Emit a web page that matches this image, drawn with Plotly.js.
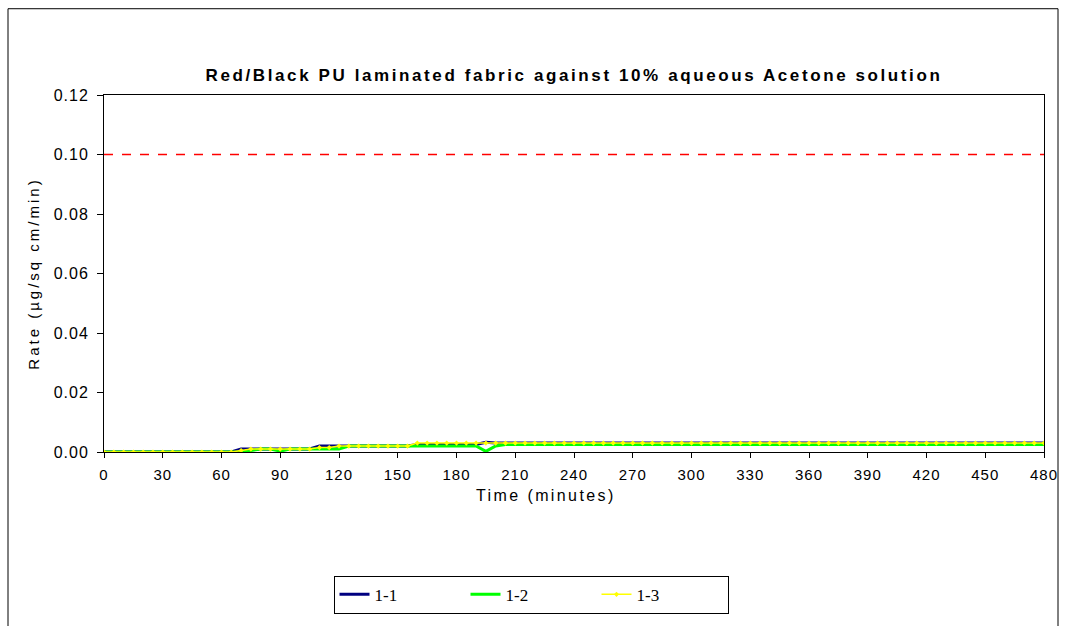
<!DOCTYPE html>
<html><head><meta charset="utf-8">
<script src="https://cdn.plot.ly/plotly-3.0.1.min.js"></script>
<style>html,body{margin:0;padding:0;background:#fff}#chart{width:1066px;height:626px}</style>
</head><body><div id="chart"></div>
<script>
// Time (minutes), sampled every 5 min
const time = [0,5,10,15,20,25,30,35,40,45,50,55,60,65,70,75,80,85,90,95,100,105,110,115,120,125,130,135,140,145,150,155,160,165,170,175,180,185,190,195,200,205,210,215,220,225,230,235,240,245,250,255,260,265,270,275,280,285,290,295,300,305,310,315,320,325,330,335,340,345,350,355,360,365,370,375,380,385,390,395,400,405,410,415,420,425,430,435,440,445,450,455,460,465,470,475,480];
const s11 = [0,0,0,0,0,0,0,0,0,0,0,0,0,0,0.001,0.001,0.001,0.001,0.001,0.001,0.001,0.001,0.002,0.002,0.002,0.002,0.002,0.002,0.002,0.002,0.002,0.002,0.0025,0.0025,0.0025,0.0025,0.0025,0.0025,0.0025,0.0033,0.003,0.003,0.003,0.003,0.003,0.003,0.003,0.003,0.003,0.003,0.003,0.003,0.003,0.003,0.003,0.003,0.003,0.003,0.003,0.003,0.003,0.003,0.003,0.003,0.003,0.003,0.003,0.003,0.003,0.003,0.003,0.003,0.003,0.003,0.003,0.003,0.003,0.003,0.003,0.003,0.003,0.003,0.003,0.003,0.003,0.003,0.003,0.003,0.003,0.003,0.003,0.003,0.003,0.003,0.003,0.003,0.003];
const s12 = [0,0,0,0,0,0,0,0,0,0,0,0,0,0,0,0.0005,0.001,0.001,0.0003,0.001,0.001,0.001,0.001,0.001,0.001,0.002,0.002,0.002,0.002,0.002,0.002,0.002,0.002,0.002,0.002,0.002,0.002,0.002,0.002,0.0002,0.002,0.0025,0.0025,0.0025,0.0025,0.0025,0.0025,0.0025,0.0025,0.0025,0.0025,0.0025,0.0025,0.0025,0.0025,0.0025,0.0025,0.0025,0.0025,0.0025,0.0025,0.0025,0.0025,0.0025,0.0025,0.0025,0.0025,0.0025,0.0025,0.0025,0.0025,0.0025,0.0025,0.0025,0.0025,0.0025,0.0025,0.0025,0.0025,0.0025,0.0025,0.0025,0.0025,0.0025,0.0025,0.0025,0.0025,0.0025,0.0025,0.0025,0.0025,0.0025,0.0025,0.0025,0.0025,0.0025,0.0025];
const s13 = [0,0,0,0,0,0,0,0,0,0,0,0,0,0,0.0005,0.001,0.001,0.001,0.001,0.001,0.001,0.001,0.0015,0.0015,0.002,0.002,0.002,0.002,0.002,0.002,0.002,0.002,0.003,0.003,0.003,0.003,0.003,0.003,0.003,0.003,0.003,0.003,0.003,0.003,0.003,0.003,0.003,0.003,0.003,0.003,0.003,0.003,0.003,0.003,0.003,0.003,0.003,0.003,0.003,0.003,0.003,0.003,0.003,0.003,0.003,0.003,0.003,0.003,0.003,0.003,0.003,0.003,0.003,0.003,0.003,0.003,0.003,0.003,0.003,0.003,0.003,0.003,0.003,0.003,0.003,0.003,0.003,0.003,0.003,0.003,0.003,0.003,0.003,0.003,0.003,0.003,0.003];
const limitX = [0, 480];
const limitY = [0.10, 0.10];
const xTicks = [0,30,60,90,120,150,180,210,240,270,300,330,360,390,420,450,480];
const yTicks = [0,0.02,0.04,0.06,0.08,0.10,0.12];
const yTickLabels = ['0.00','0.02','0.04','0.06','0.08','0.10','0.12'];

const sp = (t, s) => '<span style="letter-spacing:' + s + 'px">' + t + '</span>';

const traces = [
  {x: limitX, y: limitY, mode: 'lines', line: {color: '#ff0000', width: 1.3, dash: 'dash'}, showlegend: false, hoverinfo: 'skip'},
  {x: time, y: s11, name: '1-1', mode: 'lines', line: {color: '#000080', width: 3}},
  {x: time, y: s12, name: '1-2', mode: 'lines', line: {color: '#00ff00', width: 3}},
  {x: time, y: s13, name: '1-3', mode: 'lines+markers', line: {color: '#ffff00', width: 1.5}, marker: {color: '#ffff00', size: 4, symbol: 'diamond'}}
];

const layout = {
  width: 1066, height: 626,
  paper_bgcolor: '#fff', plot_bgcolor: '#fff',
  margin: {l: 104, r: 22, t: 95, b: 171},
  font: {family: 'Arial, "Liberation Sans", sans-serif', color: '#000', size: 15},
  title: {text: sp('<b>Red/Black PU laminated fabric against 10% aqueous Acetone solution</b>', 2.6), x: 0.5, xref: 'paper', y: 1 - 75/626, yanchor: 'middle', font: {size: 17, family: 'Arial, "Liberation Sans", sans-serif'}},
  xaxis: {range: [0, 480], tickvals: xTicks, ticktext: xTicks.map(v => sp(String(v), 1)), ticks: 'outside', ticklen: 5, tickcolor: '#000', showline: true, linecolor: '#000', linewidth: 1, mirror: true, showgrid: false, zeroline: false,
    tickfont: {size: 15}, ticklabelstandoff: 4},
  yaxis: {range: [0, 0.12], tickvals: yTicks, ticktext: yTickLabels.map(v => sp(v, 1)), ticks: 'outside', ticklen: 6, tickcolor: '#000', showline: true, linecolor: '#000', linewidth: 1, mirror: true, showgrid: false, zeroline: false,
    tickfont: {size: 16}, ticklabelstandoff: 5,
    title: {text: sp('Rate (µg/sq cm/min)', 3), standoff: 10, font: {size: 15}}},
  annotations: [{text: sp('Time (minutes)', 2.4), xref: 'paper', yref: 'paper', x: (546-104)/940, y: (455-499)/360, xanchor: 'center', yanchor: 'middle', showarrow: false, font: {size: 16}}],
  legend: {orientation: 'h', x: (531-104)/940, xanchor: 'center', y: (455-599)/360, yanchor: 'middle', bordercolor: '#000', borderwidth: 1, font: {family: '"Liberation Serif", "Times New Roman", serif', size: 17}, tracegroupgap: 0, entrywidth: 86},
  shapes: [{type: 'rect', xref: 'paper', yref: 'paper', x0: (8-104)/940, x1: (1058-104)/940, y0: (455-640)/360, y1: (455-8)/360, line: {color: '#000', width: 1}, fillcolor: 'rgba(0,0,0,0)', layer: 'below'}],
  showlegend: true
};

Plotly.newPlot('chart', traces, layout, {displayModeBar: false, staticPlot: true});
</script></body></html>
